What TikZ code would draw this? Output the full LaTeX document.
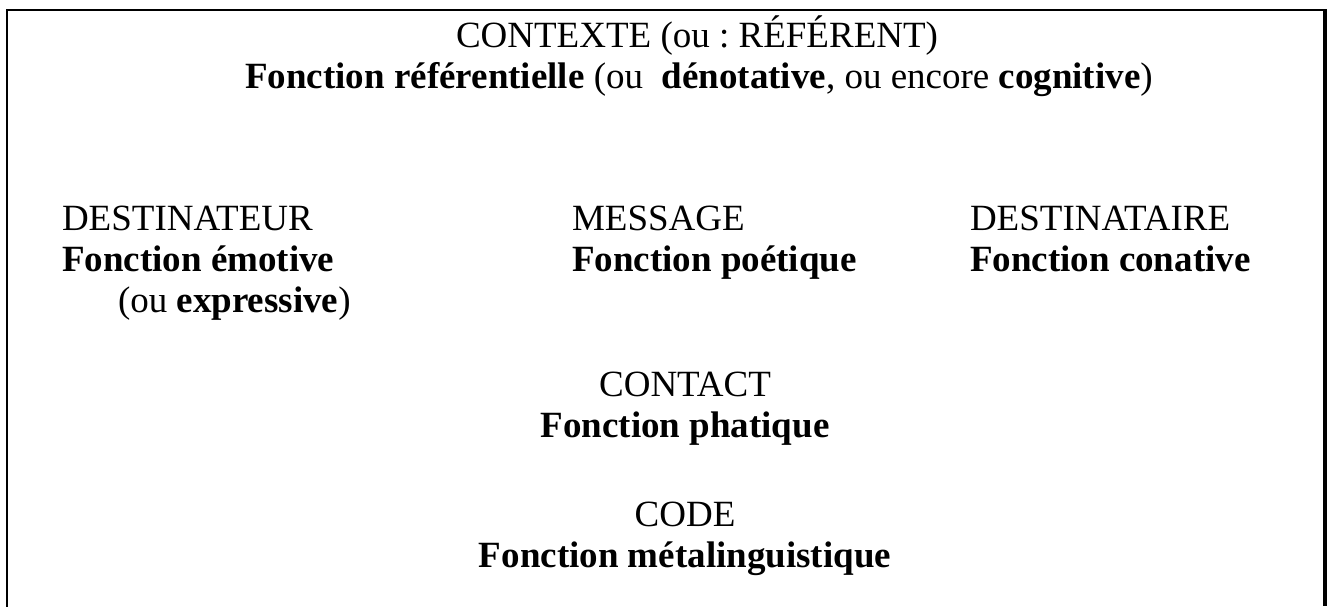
\documentclass[tikz,border=0pt]{standalone}
\usepackage{fontspec}
\setmainfont{Liberation Serif}
\frenchspacing
\begin{document}
\begin{tikzpicture}[x=1pt,y=-1pt,
  txt/.style={inner sep=0pt,outer sep=0pt,font=\fontsize{37}{41}\selectfont},
  frame/.style={line width=2.2pt,line cap=rect}]
\useasboundingbox (0,0) rectangle (1327,606);
% frame (open at the bottom)
\coordinate (bl) at (7,606);
\coordinate (tl) at (7,10);
\coordinate (tr) at (1323,10);
\coordinate (br) at (1325,606);
\draw[frame] (bl) -- (tl) -- (tr);
\draw[line width=4pt] (1325,9) -- (br);
% context
\node[txt,anchor=base] (ctx1) at (697,47) {CONTEXTE (ou : RÉFÉRENT)};
\node[txt,anchor=base] (ctx2) at (699,88) {\textbf{Fonction référentielle} (ou\ \ \textbf{dénotative}, ou encore \textbf{cognitive})};
% sender
\node[txt,anchor=base west] (dst1) at (62,230) {DESTINATEUR};
\node[txt,anchor=base west] (dst2) at (62,271) {\textbf{Fonction émotive}};
\node[txt,anchor=base west] (dst3) at (118,312) {(ou \textbf{expressive})};
% message
\node[txt,anchor=base west] (msg1) at (572,230) {MESSAGE};
\node[txt,anchor=base west] (msg2) at (572,271) {\textbf{Fonction poétique}};
% receiver
\node[txt,anchor=base west] (rcv1) at (970,230) {DESTINATAIRE};
\node[txt,anchor=base west] (rcv2) at (970,271) {\textbf{Fonction conative}};
% contact
\node[txt,anchor=base] (cnt1) at (685,396) {CONTACT};
\node[txt,anchor=base] (cnt2) at (685,437) {\textbf{Fonction phatique}};
% code
\node[txt,anchor=base] (cod1) at (685,526) {CODE};
\node[txt,anchor=base] (cod2) at (685,567) {\textbf{Fonction métalinguistique}};
\end{tikzpicture}
\end{document}
